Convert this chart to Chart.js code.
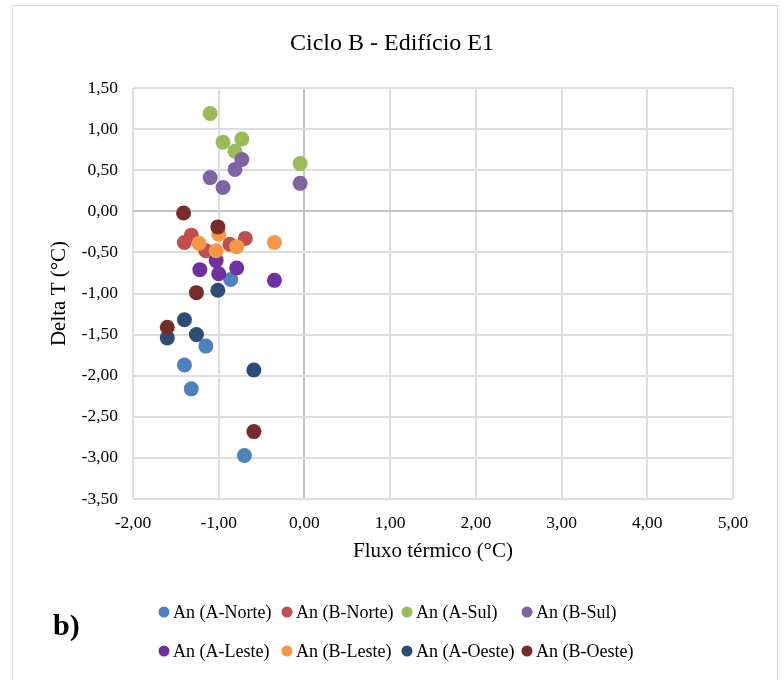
<!DOCTYPE html>
<html>
<head>
<meta charset="utf-8">
<script src="https://cdn.jsdelivr.net/npm/chart.js@4"></script>
<style>
    body { margin: 0; background: #fff; }
    canvas { display: block; }
</style>
</head>
<body>
<canvas id="cicloChart" width="784" height="680"></canvas>
<script>
// values
const seriesNames = ['An (A-Norte)', 'An (B-Norte)', 'An (A-Sul)', 'An (B-Sul)',
                     'An (A-Leste)', 'An (B-Leste)', 'An (A-Oeste)', 'An (B-Oeste)'];
const seriesColors = ['#4F81BD', '#C0504D', '#9BBB59', '#8064A2',
                      '#7030A0', '#F79646', '#2C4D75', '#772C2A'];

const aNorteX = [-0.86, -1.15, -1.40, -1.32, -0.70];
const aNorteY = [-0.83, -1.64, -1.87, -2.16, -2.97];
const bNorteX = [-1.32, -1.40, -1.15, -0.69, -0.87];
const bNorteY = [-0.29, -0.38, -0.48, -0.33, -0.40];
const aSulX = [-1.10, -0.95, -0.73, -0.81, -0.05];
const aSulY = [1.19, 0.84, 0.88, 0.73, 0.58];
const bSulX = [-0.73, -0.81, -1.10, -0.95, -0.05];
const bSulY = [0.63, 0.51, 0.41, 0.29, 0.34];
const aLesteX = [-1.03, -1.22, -0.79, -1.00, -0.35];
const aLesteY = [-0.60, -0.71, -0.69, -0.76, -0.84];
const bLesteX = [-1.00, -1.23, -1.03, -0.79, -0.35];
const bLesteY = [-0.28, -0.39, -0.48, -0.43, -0.38];
const aOesteX = [-1.01, -1.40, -1.26, -1.60, -0.59];
const aOesteY = [-0.96, -1.32, -1.50, -1.54, -1.93];
const bOesteX = [-1.41, -1.01, -1.26, -1.60, -0.59];
const bOesteY = [-0.02, -0.19, -0.99, -1.41, -2.68];

const xTicks = [-2, -1, 0, 1, 2, 3, 4, 5];
const yTicks = [-3.5, -3, -2.5, -2, -1.5, -1, -0.5, 0, 0.5, 1, 1.5];

const seriesX = [aNorteX, bNorteX, aSulX, bSulX, aLesteX, bLesteX, aOesteX, bOesteX];
const seriesY = [aNorteY, bNorteY, aSulY, bSulY, aLesteY, bLesteY, aOesteY, bOesteY];

const FONT = "'Liberation Serif', 'Times New Roman', serif";

function fmt(v) {
    return v.toFixed(2).replace('.', ',');
}

function gridColor(ctx) {
    return ctx.tick && ctx.tick.value === 0 ? '#C4C4C4' : '#DEDEDE';
}

// frame, the "b)" tag and the legend (Excel style fixed columns)
const decorPlugin = {
    id: 'decor',
    beforeDraw(chart) {
        const c = chart.ctx;
        c.save();
        c.fillStyle = '#fff';
        c.fillRect(0, 0, chart.width, chart.height);
        c.strokeStyle = '#D9D9D9';
        c.lineWidth = 1;
        c.strokeRect(12.5, 5.5, 765, 700);
        c.restore();
    },
    afterDraw(chart) {
        const c = chart.ctx;
        c.save();
        c.fillStyle = '#000';
        c.font = 'bold 30px ' + FONT;
        c.textBaseline = 'alphabetic';
        c.fillText('b)', 53, 635);

        const colX = [164, 287, 407, 527];
        const rowY = [612, 651];
        c.font = '18px ' + FONT;
        c.textBaseline = 'middle';
        chart.data.datasets.forEach((ds, i) => {
            const x = colX[i % 4];
            const y = rowY[Math.floor(i / 4)];
            c.fillStyle = ds.backgroundColor;
            c.beginPath();
            c.arc(x, y, 5.5, 0, Math.PI * 2);
            c.fill();
            c.fillStyle = '#000';
            c.fillText(ds.label, x + 9, y + 1);
        });
        c.restore();
    }
};

const datasets = seriesNames.map((name, i) => ({
    label: name,
    data: seriesX[i].map((x, j) => ({ x: x, y: seriesY[i][j] })),
    backgroundColor: seriesColors[i],
    borderWidth: 0,
    pointRadius: 7.5,
    pointHoverRadius: 8,
    order: seriesNames.length - i
}));

new Chart(document.getElementById('cicloChart'), {
    type: 'scatter',
    data: { datasets: datasets },
    plugins: [decorPlugin],
    options: {
        responsive: false,
        animation: false,
        layout: { padding: { left: 0, right: 0, top: 0, bottom: 111 } },
        plugins: {
            legend: { display: false },
            tooltip: { enabled: true },
            title: {
                display: true,
                text: 'Ciclo B - Edifício E1',
                color: '#000',
                font: { family: FONT, size: 24, weight: 'normal', lineHeight: 1.2 },
                padding: { top: 29, bottom: 30.2 }
            }
        },
        scales: {
            x: {
                type: 'linear',
                min: -2,
                max: 5,
                afterBuildTicks: s => { s.ticks = xTicks.map(v => ({ value: v })); },
                afterFit: s => { s.height = 70; },
                grid: { color: gridColor, lineWidth: 2, drawTicks: false },
                border: { display: false },
                ticks: {
                    color: '#000',
                    padding: 14,
                    font: { family: FONT, size: 17.5, lineHeight: 1.2 },
                    callback: v => fmt(v)
                },
                title: {
                    display: true,
                    text: 'Fluxo térmico (°C)',
                    color: '#000',
                    font: { family: FONT, size: 21, lineHeight: 1.2 },
                    padding: { top: 0, bottom: 5 }
                }
            },
            y: {
                type: 'linear',
                position: 'left',
                min: -3.5,
                max: 1.5,
                afterBuildTicks: s => { s.ticks = yTicks.map(v => ({ value: v })); },
                afterFit: s => { s.width = 133; },
                grid: { color: gridColor, lineWidth: 2, drawTicks: false },
                border: { display: false },
                ticks: {
                    color: '#000',
                    padding: 15,
                    font: { family: FONT, size: 17.5, lineHeight: 1.2 },
                    callback: v => fmt(v)
                },
                title: {
                    display: true,
                    text: 'Delta T (°C)',
                    color: '#000',
                    font: { family: FONT, size: 21, lineHeight: 1.2 },
                    padding: { top: 47, bottom: 0 }
                }
            },
            yRight: {
                type: 'linear',
                position: 'right',
                min: -3.5,
                max: 1.5,
                afterFit: s => { s.width = 51; },
                grid: { display: false },
                border: { display: false },
                ticks: { display: false }
            }
        }
    }
});
</script>
</body>
</html>
